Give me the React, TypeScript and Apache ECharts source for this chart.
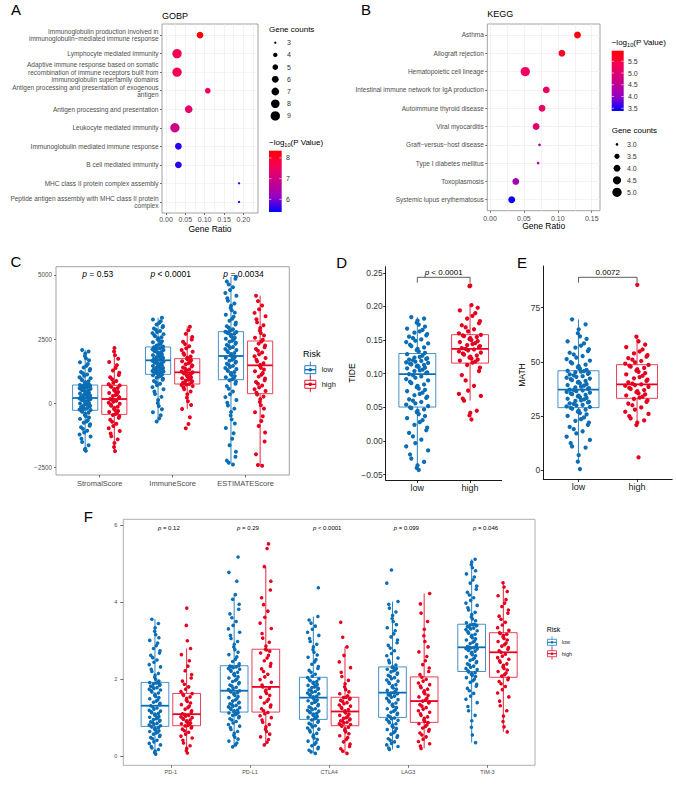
import React, { useEffect, useRef } from "react";
import * as echarts from "echarts";

const FONT = '"Liberation Sans", Arial, Helvetica, sans-serif';
const LOW = "#0b6eb5";
const HIGH = "#e5001f";
const GRAD = ["#0000FF", "#9900C2", "#C80088", "#F40059", "#FF0000"];

// ---------- Panel A (GOBP) ----------
const GOBP_TERMS = [
  "Immunoglobulin production involved in\nimmunoglobulin\u2212mediated immune response",
  "Lymphocyte mediated immunity",
  "Adaptive immune response based on somatic\nrecombination of immune receptors built from\nimmunoglobulin superfamily domains",
  "Antigen processing and presentation of exogenous\nantigen",
  "Antigen processing and presentation",
  "Leukocyte mediated immunity",
  "Immunoglobulin mediated immune response",
  "B cell mediated immunity",
  "MHC class II protein complex assembly",
  "Peptide antigen assembly with MHC class II protein\ncomplex",
];
const GOBP_RATIO = [0.088, 0.0285, 0.0285, 0.108, 0.0587, 0.023, 0.032, 0.032, 0.189, 0.189];
const GOBP_COUNT = [6, 9, 9, 5, 7, 9, 6, 6, 3, 3];
const GOBP_LOGP = [8.3, 7.7, 7.65, 7.5, 7.4, 6.9, 5.6, 5.6, 5.55, 5.55];
const GOBP_X_TICKS = [0, 0.05, 0.1, 0.15, 0.2];
const GOBP_X_MINOR = [0, 0.025, 0.05, 0.075, 0.1, 0.125, 0.15, 0.175, 0.2, 0.225];
const GOBP_SIZE_LEGEND = [3, 4, 5, 6, 7, 8, 9];
const GOBP_CB_TICKS = [6, 7, 8];
const GOBP_CB_RANGE = [5.39, 8.35];

// ---------- Panel B (KEGG) ----------
const KEGG_TERMS = [
  "Asthma",
  "Allograft rejection",
  "Hematopoietic cell lineage",
  "Intestinal immune network for IgA production",
  "Autoimmune thyroid disease",
  "Viral myocarditis",
  "Graft\u2212versus\u2212host disease",
  "Type I diabetes mellitus",
  "Toxoplasmosis",
  "Systemic lupus erythematosus",
];
const KEGG_RATIO = [0.129, 0.106, 0.052, 0.083, 0.0767, 0.068, 0.073, 0.071, 0.038, 0.032];
const KEGG_COUNT = [4, 4, 5, 4, 4, 4, 3, 3, 4, 4];
const KEGG_LOGP = [5.9, 5.65, 5.2, 5.15, 5.1, 5.0, 4.3, 4.25, 4.15, 3.42];
const KEGG_X_TICKS = [0, 0.05, 0.1, 0.15];
const KEGG_X_MINOR = [0, 0.025, 0.05, 0.075, 0.1, 0.125, 0.15];
const KEGG_SIZE_LEGEND = [3, 3.5, 4, 4.5, 5];
const KEGG_CB_TICKS = [3.5, 4, 4.5, 5, 5.5];
const KEGG_CB_RANGE = [3.385, 5.95];

// ---------- Panel C (ESTIMATE) ----------
const C_CATS = ["StromalScore", "ImmuneScore", "ESTIMATEScore"];
const C_P = ["= 0.53", "< 0.0001", "= 0.0034"];
const C_Y_TICKS = [-2500, 0, 2500, 5000];
const C_BOX_LOW = [[-1836, -286, 195, 703, 2070], [-730, 1120, 1667, 2187, 3333], [-2357, 911, 1836, 2786, 4935]];
const C_BOX_HIGH = [[-1875, -443, 156, 690, 2160], [-230, 742, 1198, 1732, 2982], [-2448, 365, 1471, 2422, 4193]];
const C_STROMAL_LOW = [-1870, -1830, -1790, -1650, -1520, -1400, -1310, -1230, -1150, -1080, -1010, -950, -890, -830, -770, -720, -670, -620, -570, -520, -470, -420, -380, -340, -300,
  -270, -250, -225, -200, -180, -155, -130, -110, -85, -60, -40, -15, 5, 30, 50, 70, 95, 115, 140, 160, 180, 195, 205, 225, 245, 265, 290, 310, 330, 355, 375, 400, 420, 445, 465, 490, 510, 530, 555, 575, 595, 615, 630, 645, 660, 672, 684, 693, 700, 703,
  720, 750, 780, 815, 850, 890, 930, 970, 1010, 1060, 1110, 1160, 1210, 1270, 1330, 1390, 1450, 1520, 1590, 1670, 1750, 1840, 1930, 2010, 2070];
const C_STROMAL_HIGH = [-1880, -1720, -1560, -1420, -1300, -1190, -1090, -990, -900, -810, -730, -650, -580, -520, -470,
  -430, -390, -350, -310, -270, -230, -190, -150, -110, -70, -30, 10, 50, 90, 130, 160, 190, 230, 270, 310, 350, 390, 430, 470, 510, 550, 590, 630, 660, 688,
  730, 790, 860, 930, 1010, 1090, 1180, 1270, 1370, 1480, 1600, 1730, 1870, 2010, 2150];
const C_IMMUNE_LOW = [-720, -600, -480, -360, -240, -120, 0, 120, 240, 350, 450, 540, 620, 690, 750, 810, 860, 910, 950, 990, 1030, 1060, 1085, 1105, 1115,
  1130, 1150, 1170, 1190, 1210, 1230, 1250, 1270, 1290, 1310, 1330, 1350, 1370, 1390, 1410, 1430, 1450, 1470, 1490, 1510, 1530, 1550, 1575, 1600, 1625, 1650, 1667, 1690, 1710, 1730, 1750, 1770, 1795, 1820, 1845, 1870, 1895, 1920, 1945, 1970, 1995, 2020, 2045, 2070, 2095, 2120, 2140, 2160, 2175, 2185,
  2210, 2250, 2290, 2330, 2370, 2410, 2450, 2490, 2530, 2570, 2610, 2650, 2690, 2730, 2770, 2810, 2860, 2910, 2960, 3010, 3070, 3130, 3190, 3260, 3330];
const C_IMMUNE_HIGH = [-990, -820, -560, -230, -80, 70, 210, 340, 450, 540, 610, 660, 700, 725, 738,
  760, 790, 820, 850, 880, 910, 940, 970, 1000, 1030, 1060, 1090, 1120, 1150, 1180, 1200, 1230, 1270, 1310, 1350, 1390, 1430, 1470, 1510, 1550, 1590, 1630, 1670, 1700, 1728,
  1770, 1820, 1880, 1940, 2000, 2070, 2140, 2220, 2300, 2390, 2480, 2580, 2700, 2840, 2980];
const C_ESTIMATE_LOW = [-2400, -2330, -2250, -2100, -1900, -1650, -1400, -1180, -980, -800, -640, -490, -350, -220, -100, 10, 120, 230, 340, 450, 560, 660, 750, 830, 890,
  930, 970, 1010, 1050, 1090, 1130, 1170, 1210, 1250, 1290, 1330, 1370, 1410, 1450, 1490, 1530, 1570, 1610, 1650, 1690, 1730, 1770, 1800, 1836, 1870, 1910, 1950, 1990, 2030, 2070, 2110, 2150, 2190, 2230, 2270, 2310, 2350, 2390, 2430, 2470, 2510, 2550, 2590, 2630, 2670, 2700, 2730, 2755, 2770, 2782,
  2820, 2880, 2940, 3000, 3070, 3140, 3210, 3290, 3370, 3450, 3530, 3620, 3710, 3800, 3890, 3990, 4090, 4190, 4300, 4410, 4520, 4630, 4750, 4850, 4930];
const C_ESTIMATE_HIGH = [-2450, -2420, -2000, -1500, -1150, -900, -700, -520, -360, -220, -90, 40, 150, 250, 330,
  400, 470, 540, 610, 680, 750, 820, 890, 960, 1030, 1100, 1170, 1240, 1310, 1380, 1450, 1490, 1550, 1620, 1690, 1760, 1830, 1900, 1970, 2040, 2110, 2180, 2250, 2320, 2400,
  2470, 2550, 2640, 2730, 2830, 2930, 3040, 3150, 3270, 3390, 3520, 3660, 3810, 3980, 4190];

// ---------- Panel D (TIDE) ----------
const DE_CATS = ["low", "high"];
const D_Y_TICKS = [-0.05, 0, 0.05, 0.1, 0.15, 0.2, 0.25];
const D_BOX = [[-0.043, 0.0505, 0.0995, 0.13, 0.184], [0.06, 0.1158, 0.137, 0.158, 0.202]];
const D_LOW = [-0.043, -0.04, -0.036, -0.031, -0.026, -0.02, -0.014, -0.008, -0.003, 0.002, 0.007, 0.012, 0.016, 0.02, 0.024, 0.028, 0.031, 0.034, 0.037, 0.04, 0.043, 0.045, 0.047, 0.049, 0.05,
  0.052, 0.054, 0.056, 0.058, 0.06, 0.062, 0.064, 0.066, 0.068, 0.07, 0.072, 0.074, 0.076, 0.078, 0.08, 0.082, 0.084, 0.086, 0.088, 0.09, 0.092, 0.094, 0.096, 0.098, 0.0995,
  0.101, 0.102, 0.104, 0.105, 0.106, 0.108, 0.109, 0.11, 0.111, 0.112, 0.113, 0.114, 0.115, 0.116, 0.117, 0.118, 0.119, 0.12, 0.121, 0.122, 0.123, 0.124, 0.125, 0.127, 0.129,
  0.131, 0.133, 0.135, 0.137, 0.139, 0.141, 0.143, 0.145, 0.147, 0.149, 0.151, 0.153, 0.155, 0.157, 0.159, 0.161, 0.163, 0.165, 0.167, 0.17, 0.173, 0.176, 0.179, 0.182, 0.184];
const D_HIGH = [0.032, 0.038, 0.042, 0.045, 0.06, 0.063, 0.067, 0.07, 0.075, 0.082, 0.09, 0.098, 0.104, 0.109, 0.113,
  0.1165, 0.118, 0.1195, 0.121, 0.1225, 0.124, 0.1255, 0.127, 0.1285, 0.13, 0.1315, 0.133, 0.1345, 0.136, 0.137, 0.138, 0.1395, 0.141, 0.1425, 0.144, 0.1455, 0.147, 0.1485, 0.15, 0.1515, 0.153, 0.1545, 0.156, 0.157, 0.1578,
  0.16, 0.163, 0.166, 0.169, 0.172, 0.175, 0.178, 0.182, 0.186, 0.19, 0.194, 0.198, 0.202, 0.23, 0.231];
const D_P = "< 0.0001";

// ---------- Panel E (MATH) ----------
const E_Y_TICKS = [0, 25, 50, 75];
const E_BOX = [[4.0, 28.9, 37.2, 45.9, 69.6], [20.9, 33.2, 39.6, 48.7, 61.6]];
const E_LOW = [0.6, 4, 7, 10.5, 11, 12.5, 14, 15.5, 17, 18, 19, 20, 21, 22, 22.8, 23.6, 24.4, 25.1, 25.8, 26.4, 27, 27.5, 28, 28.4, 28.8,
  29.2, 29.5, 29.9, 30.2, 30.6, 30.9, 31.3, 31.6, 32, 32.3, 32.7, 33, 33.4, 33.7, 34.1, 34.4, 34.8, 35.1, 35.5, 35.8, 36.2, 36.5, 36.8, 37, 37.2, 37.5, 37.9, 38.2, 38.6, 39, 39.3, 39.7, 40.1, 40.5, 40.8, 41.2, 41.6, 42, 42.3, 42.7, 43.1, 43.4, 43.8, 44.2, 44.5, 44.9, 45.2, 45.5, 45.7, 45.9,
  46.3, 46.9, 47.5, 48.1, 48.7, 49.3, 49.9, 50.6, 51.3, 52, 52.7, 53.4, 54.2, 55, 55.8, 56.6, 57.5, 58.5, 59.5, 60.6, 61.8, 63.2, 65, 67.3, 69.6];
const E_HIGH = [6, 20.9, 22, 23, 24, 25, 26, 27, 28, 29, 30, 30.8, 31.6, 32.3, 32.9,
  33.5, 34, 34.5, 35, 35.5, 36, 36.5, 37, 37.5, 38, 38.5, 39, 39.3, 39.6, 40, 40.6, 41.2, 41.8, 42.4, 43, 43.6, 44.2, 44.8, 45.4, 46, 46.6, 47.2, 47.8, 48.3, 48.6,
  49.2, 49.8, 50.4, 51, 51.7, 52.4, 53.1, 53.9, 54.8, 55.7, 56.8, 58, 59.5, 61.6, 85.5];
const E_P = "0.0072";

// ---------- Panel F (checkpoints) ----------
const F_CATS = ["PD-1", "PD-L1", "CTLA4", "LAG3", "TIM-3"];
const F_P = ["= 0.12", "= 0.29", "< 0.0001", "= 0.099", "= 0.046"];
const F_Y_TICKS = [0, 2, 4, 6];
const F_BOX_LOW = [[0.05, 0.772, 1.31, 1.917, 3.56], [0.24, 1.145, 1.7, 2.35, 4.2], [0.07, 0.954, 1.52, 2.05, 3.63], [0.17, 1.006, 1.65, 2.32, 4.02], [0.35, 2.2, 2.83, 3.43, 5.12]];
const F_BOX_HIGH = [[0.08, 0.79, 1.09, 1.63, 2.8], [0.29, 1.145, 1.8, 2.78, 4.93], [0.07, 0.79, 1.16, 1.53, 2.84], [0.2, 0.876, 1.43, 2.06, 4.23], [0.63, 2.05, 2.7, 3.21, 4.51]];
const F_PD1_LOW = [0.05, 0.09, 0.13, 0.17, 0.21, 0.25, 0.29, 0.33, 0.37, 0.41, 0.45, 0.48, 0.51, 0.54, 0.57, 0.6, 0.62, 0.64, 0.66, 0.68, 0.7, 0.72, 0.74, 0.755, 0.768,
  0.79, 0.81, 0.83, 0.85, 0.87, 0.89, 0.91, 0.93, 0.95, 0.97, 0.99, 1.01, 1.03, 1.05, 1.07, 1.09, 1.11, 1.13, 1.15, 1.17, 1.19, 1.22, 1.25, 1.28, 1.31, 1.34, 1.37, 1.4, 1.43, 1.46, 1.49, 1.52, 1.55, 1.58, 1.61, 1.64, 1.67, 1.7, 1.72, 1.74, 1.76, 1.78, 1.8, 1.82, 1.84, 1.86, 1.88, 1.9, 1.91, 1.915,
  1.95, 2.0, 2.05, 2.1, 2.15, 2.2, 2.26, 2.32, 2.38, 2.44, 2.5, 2.56, 2.62, 2.68, 2.74, 2.8, 2.87, 2.94, 3.01, 3.08, 3.16, 3.25, 3.34, 3.45, 3.56];
const F_PD1_HIGH = [0.08, 0.14, 0.2, 0.27, 0.34, 0.41, 0.47, 0.52, 0.57, 0.62, 0.66, 0.7, 0.73, 0.76, 0.785,
  0.8, 0.82, 0.84, 0.86, 0.88, 0.9, 0.92, 0.94, 0.96, 0.98, 1.0, 1.02, 1.04, 1.06, 1.08, 1.1, 1.14, 1.18, 1.22, 1.26, 1.3, 1.34, 1.38, 1.42, 1.46, 1.5, 1.54, 1.58, 1.61, 1.625,
  1.68, 1.74, 1.8, 1.87, 1.95, 2.03, 2.12, 2.22, 2.34, 2.48, 2.64, 2.8, 3.0, 3.4, 3.85];
const F_PDL1_LOW = [0.24, 0.29, 0.34, 0.39, 0.44, 0.49, 0.54, 0.59, 0.64, 0.69, 0.74, 0.78, 0.82, 0.86, 0.9, 0.94, 0.97, 1.0, 1.03, 1.06, 1.08, 1.1, 1.12, 1.13, 1.14,
  1.16, 1.18, 1.2, 1.22, 1.24, 1.26, 1.28, 1.3, 1.32, 1.34, 1.36, 1.38, 1.4, 1.43, 1.46, 1.49, 1.52, 1.55, 1.58, 1.61, 1.63, 1.65, 1.67, 1.69, 1.7, 1.73, 1.76, 1.79, 1.82, 1.85, 1.88, 1.91, 1.94, 1.97, 2.0, 2.03, 2.06, 2.09, 2.12, 2.15, 2.18, 2.21, 2.24, 2.26, 2.28, 2.3, 2.32, 2.33, 2.34, 2.35,
  2.4, 2.46, 2.52, 2.58, 2.64, 2.7, 2.77, 2.84, 2.91, 2.98, 3.06, 3.14, 3.22, 3.31, 3.4, 3.5, 3.6, 3.7, 3.82, 3.95, 4.08, 4.2, 4.55, 4.78, 5.18];
const F_PDL1_HIGH = [0.29, 0.36, 0.43, 0.5, 0.57, 0.64, 0.7, 0.76, 0.82, 0.88, 0.94, 1.0, 1.05, 1.1, 1.135,
  1.18, 1.23, 1.28, 1.33, 1.38, 1.43, 1.48, 1.53, 1.58, 1.63, 1.68, 1.72, 1.76, 1.8, 1.85, 1.92, 1.99, 2.06, 2.13, 2.2, 2.27, 2.34, 2.41, 2.48, 2.55, 2.62, 2.68, 2.73, 2.76, 2.78,
  2.86, 2.96, 3.07, 3.19, 3.32, 3.46, 3.61, 3.77, 3.94, 4.12, 4.32, 4.55, 4.93, 5.4, 5.52];
const F_CTLA4_LOW = [0.07, 0.11, 0.15, 0.19, 0.23, 0.27, 0.31, 0.35, 0.39, 0.43, 0.47, 0.51, 0.55, 0.59, 0.63, 0.67, 0.7, 0.73, 0.76, 0.79, 0.82, 0.85, 0.88, 0.91, 0.94,
  0.97, 0.99, 1.01, 1.03, 1.05, 1.07, 1.09, 1.11, 1.13, 1.15, 1.17, 1.19, 1.21, 1.23, 1.25, 1.28, 1.31, 1.34, 1.37, 1.4, 1.42, 1.44, 1.46, 1.48, 1.52, 1.54, 1.56, 1.58, 1.6, 1.62, 1.64, 1.66, 1.68, 1.7, 1.72, 1.74, 1.76, 1.78, 1.8, 1.82, 1.84, 1.86, 1.88, 1.9, 1.92, 1.94, 1.96, 1.98, 2.01, 2.04,
  2.08, 2.13, 2.18, 2.23, 2.28, 2.33, 2.39, 2.45, 2.51, 2.57, 2.63, 2.7, 2.77, 2.84, 2.91, 2.98, 3.06, 3.14, 3.22, 3.3, 3.38, 3.46, 3.54, 3.63, 4.38];
const F_CTLA4_HIGH = [0.07, 0.13, 0.19, 0.25, 0.31, 0.37, 0.43, 0.48, 0.53, 0.58, 0.63, 0.67, 0.71, 0.75, 0.78,
  0.8, 0.82, 0.84, 0.86, 0.88, 0.9, 0.92, 0.94, 0.96, 0.98, 1.0, 1.03, 1.06, 1.09, 1.12, 1.15, 1.18, 1.21, 1.24, 1.27, 1.3, 1.33, 1.36, 1.39, 1.42, 1.45, 1.48, 1.5, 1.52, 1.53,
  1.57, 1.62, 1.67, 1.73, 1.8, 1.88, 1.97, 2.07, 2.18, 2.3, 2.45, 2.62, 2.84, 3.09, 3.48];
const F_LAG3_LOW = [0.17, 0.21, 0.25, 0.29, 0.33, 0.37, 0.41, 0.45, 0.49, 0.53, 0.57, 0.61, 0.65, 0.69, 0.72, 0.75, 0.78, 0.81, 0.84, 0.87, 0.9, 0.93, 0.95, 0.97, 0.99,
  1.02, 1.05, 1.08, 1.11, 1.14, 1.17, 1.2, 1.23, 1.26, 1.29, 1.32, 1.35, 1.38, 1.41, 1.44, 1.47, 1.5, 1.53, 1.56, 1.58, 1.6, 1.62, 1.63, 1.64, 1.65, 1.68, 1.71, 1.74, 1.77, 1.8, 1.83, 1.86, 1.89, 1.92, 1.95, 1.98, 2.01, 2.04, 2.07, 2.1, 2.13, 2.16, 2.19, 2.22, 2.24, 2.26, 2.28, 2.3, 2.31, 2.32,
  2.37, 2.43, 2.49, 2.55, 2.61, 2.67, 2.74, 2.81, 2.88, 2.95, 3.02, 3.1, 3.18, 3.26, 3.34, 3.42, 3.5, 3.58, 3.66, 3.75, 3.85, 3.95, 4.02, 4.5, 4.84];
const F_LAG3_HIGH = [0.2, 0.26, 0.32, 0.38, 0.44, 0.5, 0.55, 0.6, 0.65, 0.69, 0.73, 0.77, 0.81, 0.84, 0.87,
  0.9, 0.94, 0.98, 1.02, 1.06, 1.1, 1.14, 1.18, 1.22, 1.26, 1.3, 1.34, 1.38, 1.41, 1.43, 1.46, 1.5, 1.54, 1.58, 1.62, 1.66, 1.7, 1.74, 1.78, 1.82, 1.86, 1.9, 1.95, 2.0, 2.05,
  2.12, 2.2, 2.29, 2.38, 2.48, 2.59, 2.71, 2.84, 2.98, 3.13, 3.3, 3.5, 3.72, 3.96, 4.23];
const F_TIM3_LOW = [0.35, 0.55, 0.75, 0.92, 1.06, 1.18, 1.29, 1.39, 1.48, 1.56, 1.63, 1.7, 1.76, 1.82, 1.87, 1.92, 1.96, 2.0, 2.04, 2.07, 2.1, 2.13, 2.15, 2.17, 2.19,
  2.22, 2.25, 2.28, 2.31, 2.34, 2.37, 2.4, 2.43, 2.46, 2.49, 2.52, 2.55, 2.58, 2.61, 2.64, 2.67, 2.7, 2.73, 2.75, 2.77, 2.79, 2.8, 2.81, 2.82, 2.83, 2.85, 2.87, 2.9, 2.93, 2.96, 2.99, 3.02, 3.05, 3.08, 3.11, 3.14, 3.17, 3.2, 3.23, 3.26, 3.29, 3.31, 3.33, 3.35, 3.37, 3.39, 3.4, 3.41, 3.42, 3.43,
  3.47, 3.52, 3.57, 3.62, 3.68, 3.74, 3.8, 3.86, 3.92, 3.98, 4.05, 4.12, 4.19, 4.26, 4.34, 4.42, 4.5, 4.58, 4.66, 4.74, 4.82, 4.9, 4.98, 5.05, 5.12];
const F_TIM3_HIGH = [0.63, 0.76, 0.9, 1.04, 1.18, 1.31, 1.43, 1.54, 1.64, 1.73, 1.81, 1.88, 1.94, 1.99, 2.03,
  2.08, 2.12, 2.16, 2.2, 2.24, 2.28, 2.32, 2.36, 2.4, 2.44, 2.48, 2.52, 2.56, 2.6, 2.65, 2.7, 2.74, 2.78, 2.82, 2.86, 2.9, 2.94, 2.98, 3.02, 3.06, 3.1, 3.14, 3.17, 3.19, 3.21,
  3.27, 3.34, 3.41, 3.48, 3.56, 3.64, 3.72, 3.8, 3.89, 3.98, 4.07, 4.17, 4.28, 4.4, 4.51];

// fixed jitter pattern (deterministic spread across the box)
const JITTER = [0.12, -0.71, 0.58, -0.25, 0.93, -0.88, 0.34, -0.05, 0.77, -0.52, 0.21, -0.96, 0.66, -0.38, 0.02, 0.85, -0.63, 0.45, -0.17];

function areaSize(c: number, cmin: number, cmax: number, dmin: number, dmax: number) {
  const t = (c - cmin) / (cmax - cmin);
  return Math.sqrt(dmin * dmin + t * (dmax * dmax - dmin * dmin));
}
const sizeA = (c: number) => areaSize(c, 3, 9, 2.3, 9.3);
const sizeB = (c: number) => areaSize(c, 3, 5, 2.7, 9.3);

// ax: 0=C, 1=D, 2=E, 3=F  -> xAxisIndex ax+4, yAxisIndex ax+2
function boxSeries(ax: number, stats: number[][], pos: number[], width: number, color: string) {
  return {
    type: "custom",
    xAxisIndex: ax + 4,
    yAxisIndex: ax + 2,
    silent: true,
    z: 2,
    data: stats.map((s, i) => [pos[i], s[0], s[1], s[2], s[3], s[4]]),
    encode: { x: 0, y: [1, 2, 3, 4, 5] },
    renderItem: (params: any, api: any) => {
      const x = api.value(0);
      const lo = api.coord([x, api.value(1)]);
      const q1 = api.coord([x, api.value(2)]);
      const md = api.coord([x, api.value(3)]);
      const q3 = api.coord([x, api.value(4)]);
      const hi = api.coord([x, api.value(5)]);
      const half = api.size([width, 0])[0] / 2;
      const cx = lo[0];
      const ls = { stroke: color, lineWidth: 1, opacity: 0.85 };
      return {
        type: "group",
        children: [
          { type: "line", shape: { x1: cx, y1: hi[1], x2: cx, y2: q3[1] }, style: ls },
          { type: "line", shape: { x1: cx, y1: q1[1], x2: cx, y2: lo[1] }, style: ls },
          { type: "rect", shape: { x: cx - half, y: q3[1], width: 2 * half, height: q1[1] - q3[1] }, style: { fill: "rgba(255,255,255,0)", stroke: color, lineWidth: 1, opacity: 0.75 } },
          { type: "line", shape: { x1: cx - half, y1: md[1], x2: cx + half, y2: md[1] }, style: { stroke: color, lineWidth: 1.8 } },
        ],
      };
    },
  };
}

function pointSeries(ax: number, groups: number[][], pos: number[], half: number, color: string, size: number) {
  const data: number[][] = [];
  groups.forEach((g, i) => {
    g.forEach((v, k) => {
      data.push([pos[i] + JITTER[(k * 7 + i * 3) % JITTER.length] * half, v]);
    });
  });
  return {
    type: "scatter",
    xAxisIndex: ax + 4,
    yAxisIndex: ax + 2,
    silent: true,
    z: 3,
    symbolSize: size,
    itemStyle: { color, opacity: 1 },
    data,
  };
}

const minus = (s: string) => s.replace("-", "\u2212");

function txt(x: number, y: number, text: string, size: number, opt: any = {}) {
  return {
    type: "text",
    x,
    y,
    rotation: opt.rotation || 0,
    silent: true,
    z: 10,
    style: {
      text,
      fontSize: size,
      fontFamily: FONT,
      fill: opt.color || "#000",
      align: opt.align || "left",
      textAlign: opt.align || "left",
      verticalAlign: "middle",
      textVerticalAlign: "middle",
      rich: opt.rich,
    },
  };
}

const PITAL = (size: number) => ({ i: { fontStyle: "italic", fontSize: size, fontFamily: FONT, fill: "#000" }, n: { fontSize: size, fontFamily: FONT, fill: "#000" } });

function logTitle(x: number, y: number, size: number) {
  return {
    type: "text",
    x,
    y,
    silent: true,
    z: 10,
    style: {
      text: "{n|\u2212log}{s|10}{n|(P Value)}",
      align: "left",
      textAlign: "left",
      verticalAlign: "middle",
      textVerticalAlign: "middle",
      rich: {
        n: { fontSize: size, fontFamily: FONT, fill: "#000", lineHeight: 11, verticalAlign: "middle" },
        s: { fontSize: size * 0.7, fontFamily: FONT, fill: "#000", lineHeight: 7, verticalAlign: "bottom" },
      },
    },
  };
}

function colorbar(x: number, y: number, w: number, h: number, range: number[], ticks: number[], labelX: number, fmt: (v: number) => string, fs: number) {
  const els: any[] = [];
  els.push({
    type: "rect",
    silent: true,
    z: 9,
    shape: { x, y, width: w, height: h },
    style: {
      fill: new echarts.graphic.LinearGradient(0, 0, 0, 1, GRAD.slice().reverse().map((c, i) => ({ offset: i / (GRAD.length - 1), color: c }))),
    },
  });
  ticks.forEach((t) => {
    const ty = y + ((range[1] - t) / (range[1] - range[0])) * h;
    els.push({ type: "line", silent: true, z: 10, shape: { x1: x, y1: ty, x2: x + 2.4, y2: ty }, style: { stroke: "#fff", lineWidth: 0.6 } });
    els.push({ type: "line", silent: true, z: 10, shape: { x1: x + w - 2.4, y1: ty, x2: x + w, y2: ty }, style: { stroke: "#fff", lineWidth: 0.6 } });
    els.push(txt(labelX, ty, fmt(t), fs, { color: "#333" }));
  });
  return els;
}

function riskKey(cx: number, cy: number, w: number, h: number, color: string, r: number, lw: number) {
  return [
    { type: "line", silent: true, z: 10, shape: { x1: cx, y1: cy - h, x2: cx, y2: cy + h }, style: { stroke: color, lineWidth: lw } },
    { type: "rect", silent: true, z: 10, shape: { x: cx - w / 2, y: cy - h / 2, width: w, height: h }, style: { fill: "#fff", stroke: color, lineWidth: lw } },
    { type: "line", silent: true, z: 11, shape: { x1: cx - w / 2, y1: cy, x2: cx + w / 2, y2: cy }, style: { stroke: color, lineWidth: lw * 1.5 } },
    { type: "circle", silent: true, z: 12, shape: { cx, cy, r }, style: { fill: color } },
  ];
}

// grid geometry
const G = {
  A: { left: 162, top: 24, width: 96, height: 189 },
  B: { left: 487.3, top: 24, width: 112.7, height: 186.7 },
  C: { left: 56, top: 266.7, width: 233.3, height: 208.3 },
  D: { left: 385.7, top: 266.7, width: 116, height: 213.3 },
  E: { left: 543.3, top: 266, width: 128.9, height: 213 },
  F: { left: 123.3, top: 519.3, width: 411.7, height: 246 },
};
const catPx = (g: any, min: number, max: number, v: number) => g.left + ((v - min) / (max - min)) * g.width;

function buildOption() {
  const lab = (fs: number, color: string, margin: number, extra: any = {}) => ({ fontSize: fs, color, margin, fontFamily: FONT, ...extra });
  const tick = (len: number, color: string, vals: number[]) => ({ show: true, length: len, customValues: vals, lineStyle: { color, width: 0.8 } });
  const noLine = { show: false, onZero: false };
  const blackLine = { show: true, onZero: false, lineStyle: { color: "#000", width: 0.9 } };

  const xAxis: any[] = [
    { gridIndex: 0, type: "value", min: -0.0104, max: 0.238, axisLine: noLine, axisTick: tick(2, "#4d4d4d", GOBP_X_TICKS), axisLabel: lab(7, "#4d4d4d", 3, { customValues: GOBP_X_TICKS, formatter: (v: number) => v.toFixed(2) }), splitLine: { show: false } },
    { gridIndex: 0, type: "value", min: -0.0104, max: 0.238, axisLine: noLine, axisTick: { show: false, customValues: GOBP_X_MINOR }, axisLabel: { show: false }, splitLine: { show: true, lineStyle: { color: "#ebebeb", width: 0.6 } } },
    { gridIndex: 1, type: "value", min: -0.004, max: 0.1622, axisLine: noLine, axisTick: tick(2, "#4d4d4d", KEGG_X_TICKS), axisLabel: lab(7, "#4d4d4d", 4, { customValues: KEGG_X_TICKS, formatter: (v: number) => v.toFixed(2) }), splitLine: { show: false } },
    { gridIndex: 1, type: "value", min: -0.004, max: 0.1622, axisLine: noLine, axisTick: { show: false, customValues: KEGG_X_MINOR }, axisLabel: { show: false }, splitLine: { show: true, lineStyle: { color: "#ebebeb", width: 0.6 } } },
    { gridIndex: 2, type: "value", min: -0.6, max: 2.6, axisLine: noLine, axisTick: tick(2.5, "#4d4d4d", [0, 1, 2]), axisLabel: lab(7.5, "#4d4d4d", 4, { customValues: [0, 1, 2], formatter: (v: number) => C_CATS[Math.round(v)] }), splitLine: { show: false } },
    { gridIndex: 3, type: "value", min: -0.6, max: 1.6, axisLine: blackLine, axisTick: tick(3, "#000", [0, 1]), axisLabel: lab(9, "#222", 3, { customValues: [0, 1], formatter: (v: number) => DE_CATS[Math.round(v)] }), splitLine: { show: false } },
    { gridIndex: 4, type: "value", min: -0.6, max: 1.6, axisLine: blackLine, axisTick: tick(3, "#000", [0, 1]), axisLabel: lab(9, "#222", 3, { customValues: [0, 1], formatter: (v: number) => DE_CATS[Math.round(v)] }), splitLine: { show: false } },
    { gridIndex: 5, type: "value", min: -0.6, max: 4.6, axisLine: noLine, axisTick: tick(2.5, "#4d4d4d", [0, 1, 2, 3, 4]), axisLabel: lab(5.5, "#4d4d4d", 4, { customValues: [0, 1, 2, 3, 4], formatter: (v: number) => F_CATS[Math.round(v)] }), splitLine: { show: false } },
  ];

  const yAxis: any[] = [
    { gridIndex: 0, type: "value", min: 0.4, max: 10.6, inverse: true, axisLine: noLine, axisTick: tick(2, "#4d4d4d", [1, 2, 3, 4, 5, 6, 7, 8, 9, 10]), axisLabel: lab(6.5, "#4d4d4d", 3.5, { customValues: [1, 2, 3, 4, 5, 6, 7, 8, 9, 10], lineHeight: 7.3, formatter: (v: number) => GOBP_TERMS[Math.round(v) - 1] }), splitLine: { show: true, lineStyle: { color: "#ebebeb", width: 0.6 } } },
    { gridIndex: 1, type: "value", min: 0.4, max: 10.6, inverse: true, axisLine: noLine, axisTick: tick(2, "#4d4d4d", [1, 2, 3, 4, 5, 6, 7, 8, 9, 10]), axisLabel: lab(6.5, "#4d4d4d", 3.5, { customValues: [1, 2, 3, 4, 5, 6, 7, 8, 9, 10], formatter: (v: number) => KEGG_TERMS[Math.round(v) - 1] }), splitLine: { show: true, lineStyle: { color: "#ebebeb", width: 0.6 } } },
    { gridIndex: 2, type: "value", min: -2812, max: 5324, axisLine: noLine, axisTick: tick(2, "#4d4d4d", C_Y_TICKS), axisLabel: lab(6.3, "#4d4d4d", 4, { customValues: C_Y_TICKS, formatter: (v: number) => minus(String(v)) }), splitLine: { show: false } },
    { gridIndex: 3, type: "value", min: -0.0579, max: 0.259, axisLine: blackLine, axisTick: tick(2.5, "#000", D_Y_TICKS), axisLabel: lab(8.5, "#333", 3, { customValues: D_Y_TICKS, formatter: (v: number) => minus(v.toFixed(2)) }), splitLine: { show: false } },
    { gridIndex: 4, type: "value", min: -4.0, max: 94.2, axisLine: blackLine, axisTick: tick(2.5, "#000", E_Y_TICKS), axisLabel: lab(8.5, "#333", 3, { customValues: E_Y_TICKS, formatter: (v: number) => String(v) }), splitLine: { show: false } },
    { gridIndex: 5, type: "value", min: -0.24, max: 6.16, axisLine: noLine, axisTick: tick(3, "#4d4d4d", F_Y_TICKS), axisLabel: lab(5.5, "#4d4d4d", 6, { customValues: F_Y_TICKS, formatter: (v: number) => String(v) }), splitLine: { show: false } },
  ];

  const grid = [
    { ...G.A, show: true, borderColor: "#8a8a8a", borderWidth: 0.8, backgroundColor: "#fff" },
    { ...G.B, show: true, borderColor: "#8a8a8a", borderWidth: 0.8, backgroundColor: "#fff" },
    { ...G.C, show: true, borderColor: "#8a8a8a", borderWidth: 0.8, backgroundColor: "#fff" },
    { ...G.D, show: false },
    { ...G.E, show: false },
    { ...G.F, show: true, borderColor: "#9a9a9a", borderWidth: 0.8, backgroundColor: "#fff" },
  ];

  const series: any[] = [
    {
      type: "scatter", xAxisIndex: 0, yAxisIndex: 0, silent: true, z: 5,
      data: GOBP_RATIO.map((r, i) => [r, i + 1, GOBP_COUNT[i], GOBP_LOGP[i]]),
      symbolSize: (v: number[]) => sizeA(v[2]),
      itemStyle: { opacity: 1 },
    },
    {
      type: "scatter", xAxisIndex: 2, yAxisIndex: 1, silent: true, z: 5,
      data: KEGG_RATIO.map((r, i) => [r, i + 1, KEGG_COUNT[i], KEGG_LOGP[i]]),
      symbolSize: (v: number[]) => sizeB(v[2]),
      itemStyle: { opacity: 1 },
    },
    boxSeries(0, C_BOX_LOW, [-0.2, 0.8, 1.8], 0.345, LOW),
    boxSeries(0, C_BOX_HIGH, [0.2, 1.2, 2.2], 0.345, HIGH),
    pointSeries(0, [C_STROMAL_LOW, C_IMMUNE_LOW, C_ESTIMATE_LOW], [-0.2, 0.8, 1.8], 0.08, LOW, 4),
    pointSeries(0, [C_STROMAL_HIGH, C_IMMUNE_HIGH, C_ESTIMATE_HIGH], [0.2, 1.2, 2.2], 0.08, HIGH, 4),
    boxSeries(1, [D_BOX[0]], [0], 0.7, LOW),
    boxSeries(1, [D_BOX[1]], [1], 0.7, HIGH),
    pointSeries(1, [D_LOW], [0], 0.22, LOW, 4.3),
    pointSeries(1, [D_HIGH], [1], 0.22, HIGH, 4.3),
    boxSeries(2, [E_BOX[0]], [0], 0.7, LOW),
    boxSeries(2, [E_BOX[1]], [1], 0.7, HIGH),
    pointSeries(2, [E_LOW], [0], 0.21, LOW, 4.3),
    pointSeries(2, [E_HIGH], [1], 0.21, HIGH, 4.3),
    boxSeries(3, F_BOX_LOW, [-0.2, 0.8, 1.8, 2.8, 3.8], 0.35, LOW),
    boxSeries(3, F_BOX_HIGH, [0.2, 1.2, 2.2, 3.2, 4.2], 0.35, HIGH),
    pointSeries(3, [F_PD1_LOW, F_PDL1_LOW, F_CTLA4_LOW, F_LAG3_LOW, F_TIM3_LOW], [-0.2, 0.8, 1.8, 2.8, 3.8], 0.075, LOW, 3.6),
    pointSeries(3, [F_PD1_HIGH, F_PDL1_HIGH, F_CTLA4_HIGH, F_LAG3_HIGH, F_TIM3_HIGH], [0.2, 1.2, 2.2, 3.2, 4.2], 0.075, HIGH, 3.6),
  ];

  const visualMap = [
    { type: "continuous", show: false, seriesIndex: 0, dimension: 3, min: GOBP_CB_RANGE[0], max: GOBP_CB_RANGE[1], inRange: { color: GRAD } },
    { type: "continuous", show: false, seriesIndex: 1, dimension: 3, min: KEGG_CB_RANGE[0], max: KEGG_CB_RANGE[1], inRange: { color: GRAD } },
  ];

  const els: any[] = [];
  els.push(txt(16, 9, "A", 15, { align: "center" }));
  els.push(txt(366, 9, "B", 15, { align: "center" }));
  els.push(txt(16, 261, "C", 15, { align: "center" }));
  els.push(txt(341.7, 262.5, "D", 15, { align: "center" }));
  els.push(txt(522, 262.5, "E", 15, { align: "center" }));
  els.push(txt(88.3, 516.7, "F", 15, { align: "center" }));

  els.push(txt(G.A.left, 16.3, "GOBP", 9));
  els.push(txt(G.A.left + G.A.width / 2, 229, "Gene Ratio", 8.5, { align: "center" }));
  els.push(txt(269, 29.3, "Gene counts", 8));
  GOBP_SIZE_LEGEND.forEach((c, i) => {
    const y = 42.7 + i * 12.2;
    els.push({ type: "circle", silent: true, z: 10, shape: { cx: 275.3, cy: y, r: sizeA(c) / 2 }, style: { fill: "#000" } });
    els.push(txt(287, y, String(c), 7, { color: "#333" }));
  });
  els.push(logTitle(269, 142.7, 8));
  els.push(...colorbar(269, 150.7, 12.7, 61.3, GOBP_CB_RANGE, GOBP_CB_TICKS, 286, (v) => String(v), 7));

  els.push(txt(G.B.left, 14.3, "KEGG", 9));
  els.push(txt(G.B.left + G.B.width / 2, 226, "Gene Ratio", 8.5, { align: "center" }));
  els.push(logTitle(611.7, 42.3, 8));
  els.push(...colorbar(611.7, 50.7, 12, 60.3, KEGG_CB_RANGE, KEGG_CB_TICKS, 628, (v) => v.toFixed(1), 7));
  els.push(txt(611.7, 130.7, "Gene counts", 8));
  KEGG_SIZE_LEGEND.forEach((c, i) => {
    const y = 144.3 + i * 12;
    els.push({ type: "circle", silent: true, z: 10, shape: { cx: 617, cy: y, r: sizeB(c) / 2 }, style: { fill: "#000" } });
    els.push(txt(627, y, c.toFixed(1), 7, { color: "#333" }));
  });

  C_P.forEach((p, i) => {
    els.push(txt(catPx(G.C, -0.6, 2.6, i) - 2, 274.3, "{i|p} {n|" + p + "}", 8.5, { align: "center", rich: PITAL(8.5) }));
  });
  els.push(txt(303, 354.3, "Risk", 9));
  els.push(...riskKey(310.3, 369.7, 11, 8, LOW, 1.8, 0.9));
  els.push(...riskKey(310.3, 384.3, 11, 8, HIGH, 1.8, 0.9));
  els.push(txt(321.7, 369.7, "low", 7.5, { color: "#222" }));
  els.push(txt(321.7, 384.3, "high", 7.5, { color: "#222" }));

  const dx0 = catPx(G.D, -0.6, 1.6, 0), dx1 = catPx(G.D, -0.6, 1.6, 1);
  els.push({ type: "polyline", silent: true, z: 10, shape: { points: [[dx0, 282.7], [dx0, 277.3], [dx1, 277.3], [dx1, 282.7]] }, style: { stroke: "#333", lineWidth: 0.8, fill: "none" } });
  els.push(txt((dx0 + dx1) / 2, 272, "{i|p} {n|" + D_P + "}", 8, { align: "center", rich: PITAL(8) }));
  els.push(txt(351.7, 373, "TIDE", 8.5, { align: "center", rotation: Math.PI / 2 }));

  const ex0 = catPx(G.E, -0.6, 1.6, 0), ex1 = catPx(G.E, -0.6, 1.6, 1);
  els.push({ type: "polyline", silent: true, z: 10, shape: { points: [[ex0, 282.7], [ex0, 277.3], [ex1, 277.3], [ex1, 282.7]] }, style: { stroke: "#333", lineWidth: 0.8, fill: "none" } });
  els.push(txt((ex0 + ex1) / 2, 272, E_P, 8, { align: "center" }));
  els.push(txt(522.3, 375, "MATH", 8.5, { align: "center", rotation: Math.PI / 2 }));

  F_P.forEach((p, i) => {
    els.push(txt(catPx(G.F, -0.6, 4.6, i) - 2, 528.3, "{i|p} {n|" + p + "}", 6, { align: "center", rich: PITAL(6) }));
  });
  els.push(txt(546.7, 629.3, "Risk", 7));
  els.push(...riskKey(552, 642.3, 9, 6, LOW, 1.3, 0.7));
  els.push(...riskKey(552, 653.7, 9, 6, HIGH, 1.3, 0.7));
  els.push(txt(561.7, 642.3, "low", 5.5, { color: "#222" }));
  els.push(txt(561.7, 653.7, "high", 5.5, { color: "#222" }));

  return {
    animation: false,
    backgroundColor: "#fff",
    textStyle: { fontFamily: FONT },
    grid,
    xAxis,
    yAxis,
    visualMap,
    series,
    graphic: { elements: els },
  };
}

export default function App() {
  const ref = useRef<HTMLDivElement>(null);
  useEffect(() => {
    document.body.style.margin = "0";
    if (!ref.current) return;
    const chart = echarts.init(ref.current, undefined, { renderer: "svg" });
    chart.setOption(buildOption() as any);
    return () => chart.dispose();
  }, []);
  return <div ref={ref} style={{ width: 676, height: 789 }} />;
}
